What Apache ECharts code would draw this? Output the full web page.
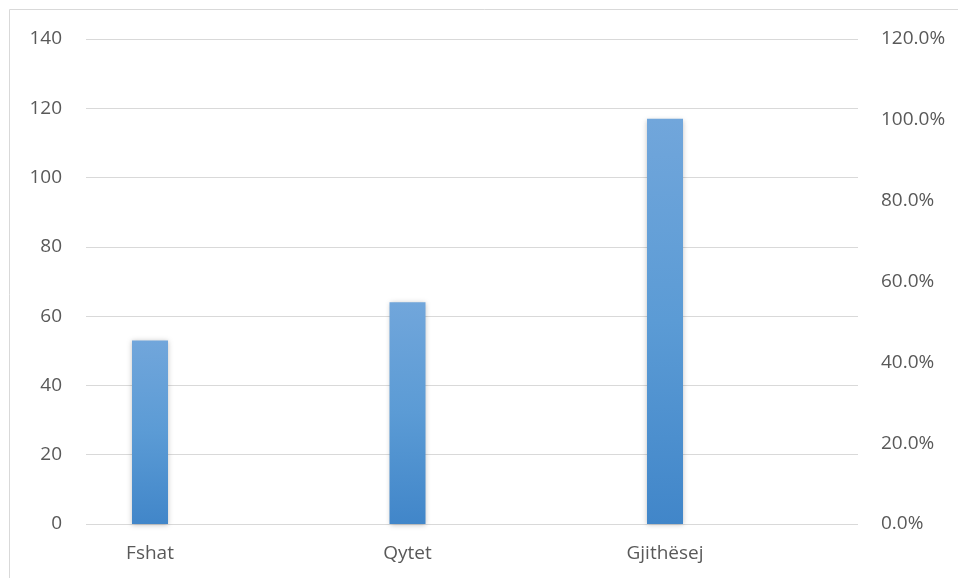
<!DOCTYPE html>
<html>
<head>
    <meta charset="utf-8">
    <title>Fshat / Qytet / Gjithësej</title>
    <style>
        * { margin: 0; padding: 0; }
        html, body { width: 100%; height: 100%; background: #fff; }
        #main { width: 958px; height: 578px; }
    </style>
</head>
<body>
<div id="main"></div>
<script src="https://cdn.jsdelivr.net/npm/echarts@6/dist/echarts.min.js"></script>
<script>
    // data
    const categories = ['Fshat', 'Qytet', 'Gjithësej'];
    const values = [53, 64, 117];
    const leftTicks = [0, 140, 20];      // min, max, interval
    const rightTicks = [0, 1.2, 0.2];    // 0.0% .. 120.0%

    const FONT = '"Open Sans", "Liberation Sans", sans-serif';
    const labelStyle = { color: '#595959', fontSize: 19, fontFamily: FONT };

    const chart = echarts.init(document.getElementById('main'));
    chart.setOption({
        animation: false,
        graphic: [{
            type: 'rect',
            shape: { x: 9.5, y: 9.5, width: 1000, height: 700 },
            style: { fill: 'none', stroke: '#d9d9d9', lineWidth: 1 },
            silent: true
        }],
        grid: [
            // frame for the gridlines and both value axes
            { left: 86, right: 100, top: 39, bottom: 54 },
            // bars sit in a band grid shifted left, like the source
            { left: 21.25, width: 772.5, top: 39, bottom: 54 }
        ],
        xAxis: [
            { type: 'value', gridIndex: 0, show: false, min: 0, max: 1 },
            {
                type: 'category', gridIndex: 1, data: categories,
                axisLine: { show: false }, axisTick: { show: false },
                axisLabel: Object.assign({ margin: 20 }, labelStyle)
            }
        ],
        yAxis: [
            {
                type: 'value', gridIndex: 0, position: 'left',
                min: leftTicks[0], max: leftTicks[1], interval: leftTicks[2],
                axisLine: { show: false }, axisTick: { show: false },
                axisLabel: Object.assign({ margin: 24 }, labelStyle),
                splitLine: { lineStyle: { color: '#d9d9d9', width: 1 } }
            },
            {
                type: 'value', gridIndex: 0, position: 'right',
                min: rightTicks[0], max: rightTicks[1], interval: rightTicks[2],
                axisLine: { show: false }, axisTick: { show: false },
                axisLabel: Object.assign({
                    margin: 23, align: 'left',
                    formatter: v => (v * 100).toFixed(1) + '%'
                }, labelStyle),
                splitLine: { show: false }
            },
            {
                type: 'value', gridIndex: 1, show: false,
                min: leftTicks[0], max: leftTicks[1]
            }
        ],
        series: [{
            type: 'bar',
            xAxisIndex: 1,
            yAxisIndex: 2,
            data: values,
            barWidth: 36,
            itemStyle: {
                color: new echarts.graphic.LinearGradient(0, 0, 0, 1, [
                    { offset: 0, color: '#71a6db' },
                    { offset: 0.5, color: '#5b9bd5' },
                    { offset: 1, color: '#4186c9' }
                ]),
                shadowColor: 'rgba(0,0,0,0.25)',
                shadowBlur: 5,
                shadowOffsetY: 1
            }
        }]
    });
</script>
</body>
</html>
